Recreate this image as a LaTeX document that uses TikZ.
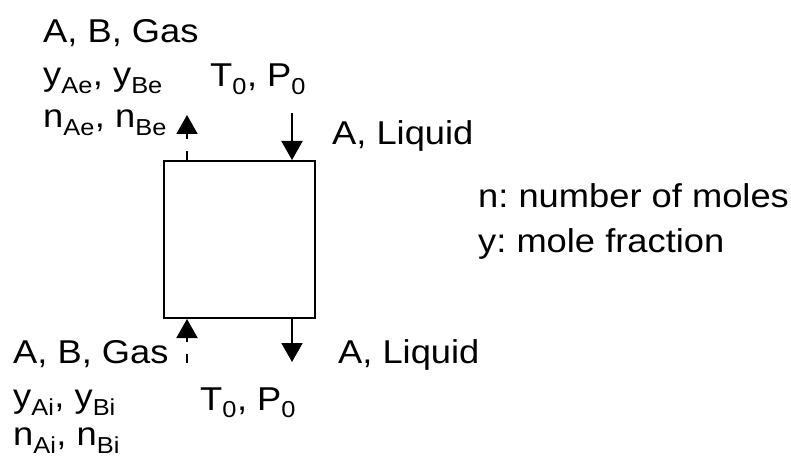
\documentclass[tikz,border=0pt]{standalone}
\usepackage{fontspec}
\setmainfont{Liberation Sans}[FakeStretch=1.1]
\usetikzlibrary{arrows.meta}
\tikzset{lbl/.style={anchor=base west, inner sep=0, font=\fontsize{33}{38}\selectfont\frenchspacing},
  flow/.style={line width=2pt, -{Triangle[width=21pt,length=19pt]}},
  gasflow/.style={flow, dash pattern=on 9pt off 12pt on 300pt}}

\begin{document}
\begin{tikzpicture}[x=1pt,y=-1pt]
\useasboundingbox (0,0) rectangle (791,457);
% reactor
\node[draw, line width=2pt, minimum width=151pt, minimum height=157pt, inner sep=0, anchor=north west] (reactor) at (163,160) {};
% stream ends
\coordinate (gasout) at (187,115);
\coordinate (liqin) at (292,113);
\coordinate (gasin) at (187,363);
\coordinate (liqout) at (292,362);
\draw[gasflow] (reactor.north -| gasout) -- (gasout);
\draw[flow] (liqin) -- (reactor.north -| liqin);
\draw[gasflow] (gasin) -- (reactor.south -| gasin);
\draw[flow] (reactor.south -| liqout) -- (liqout);
% top labels
\node[lbl] (gasoutname) at (43,43) {A, B, Gas};
\node[lbl] (gasouty) at (43,86) {y\textsubscript{Ae}, y\textsubscript{Be}};
\node[lbl] (gasoutn) at (43,128) {n\textsubscript{Ae}, n\textsubscript{Be}};
\node[lbl] (topcond) at (210,87) {T\textsubscript{0}, P\textsubscript{0}};
\node[lbl] (liqinname) at (332,145) {A, Liquid};
% legend
\node[lbl] (legn) at (478,207) {n: number of moles};
\node[lbl] (legy) at (478,252) {y: mole fraction};
% bottom labels
\node[lbl] (gasinname) at (13,363) {A, B, Gas};
\node[lbl] (gasiny) at (13,407) {y\textsubscript{Ai}, y\textsubscript{Bi}};
\node[lbl] (gasinn) at (13,445) {n\textsubscript{Ai}, n\textsubscript{Bi}};
\node[lbl] (botcond) at (200,410) {T\textsubscript{0}, P\textsubscript{0}};
\node[lbl] (liqoutname) at (338,363) {A, Liquid};
\end{tikzpicture}
\end{document}
